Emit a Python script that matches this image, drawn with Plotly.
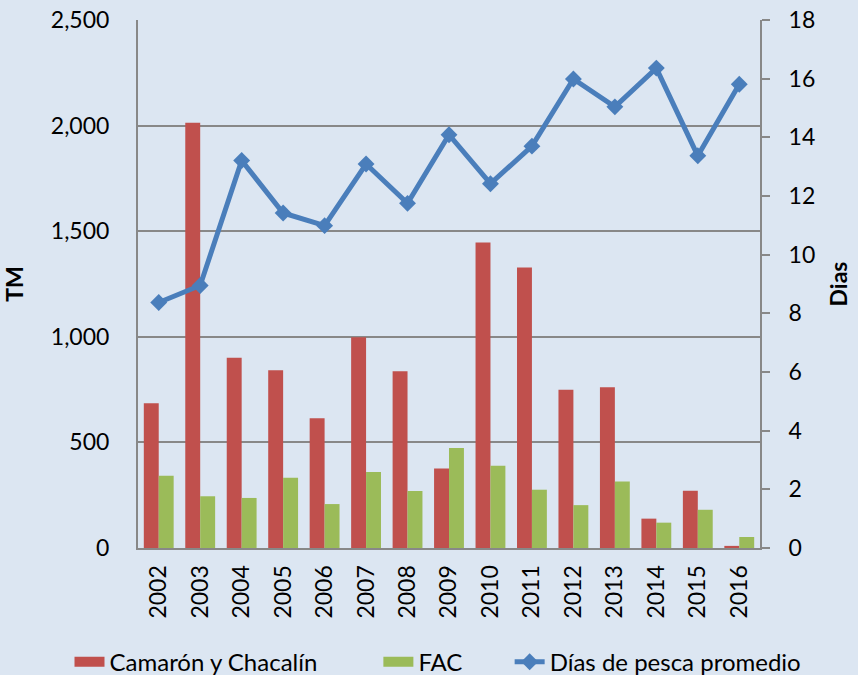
import plotly.graph_objects as go

years = ["2002", "2003", "2004", "2005", "2006", "2007", "2008", "2009",
         "2010", "2011", "2012", "2013", "2014", "2015", "2016"]
camaron = [685, 2013, 901, 842, 614, 998, 837, 376, 1446, 1328, 749, 761, 139, 271, 10]
fac = [342, 245, 237, 333, 208, 360, 270, 474, 389, 276, 203, 315, 120, 181, 52]
dias = [8.37, 8.95, 13.21, 11.42, 10.99, 13.09, 11.75, 14.09,
        12.42, 13.70, 15.99, 15.04, 16.36, 13.37, 15.81]

FONT = "Lato"
BG = "#DCE6F2"
GRID = "#888888"
RED = "#C0504D"
GREEN = "#9BBB59"
BLUE = "#4A7EBB"

fig = go.Figure()
fig.add_trace(go.Bar(x=years, y=camaron, name="Camarón y Chacalín", showlegend=False,
                     marker=dict(color=RED, line=dict(width=0))))
fig.add_trace(go.Bar(x=years, y=fac, name="FAC", showlegend=False,
                     marker=dict(color=GREEN, line=dict(width=0))))
fig.add_trace(go.Scatter(x=years, y=dias, name="Días de pesca promedio", yaxis="y2",
                         mode="lines+markers", legend="legend3",
                         line=dict(color=BLUE, width=5),
                         marker=dict(symbol="diamond", size=13, color=BLUE)))
# legend swatches (wide rectangles like the original)
fig.add_trace(go.Scatter(x=[years[0]], y=[None], mode="lines", name="Camarón y Chacalín",
                         line=dict(color=RED, width=17), legend="legend"))
fig.add_trace(go.Scatter(x=[years[0]], y=[None], mode="lines", name="FAC",
                         line=dict(color=GREEN, width=17), legend="legend2"))

leg_common = dict(orientation="h", xref="container", yref="container",
                  xanchor="left", y=0.019, yanchor="middle",
                  font=dict(size=24), bgcolor="rgba(0,0,0,0)")

fig.update_layout(
    width=858, height=675,
    paper_bgcolor=BG, plot_bgcolor=BG,
    margin=dict(l=138, r=98, t=20, b=127, autoexpand=False),
    font=dict(family=FONT, size=23, color="#000000"),
    barmode="group", bargap=0.28, bargroupgap=0,
    showlegend=True,
    legend=dict(x=0.081, **leg_common),
    legend2=dict(x=0.441, **leg_common),
    legend3=dict(x=0.594, **leg_common),
    xaxis=dict(showline=True, linecolor=GRID, linewidth=2, ticks="",
               tickangle=-90, tickfont=dict(size=23), automargin=False,
               range=[-0.5, len(years) - 0.5],
               ticklabelstandoff=6),
    yaxis=dict(range=[0, 2500], dtick=500, tickformat=",d", automargin=False,
               showgrid=True, gridcolor=GRID, gridwidth=1.5,
               showline=True, linecolor=GRID, linewidth=2, ticks="",
               zeroline=False, ticklabelstandoff=22,
               title=dict(text="<b>TM</b>", standoff=30, font=dict(size=23))),
    yaxis2=dict(range=[0, 18], dtick=2, overlaying="y", side="right", automargin=False,
                showgrid=False, showline=True, linecolor=GRID, linewidth=2,
                ticks="outside", ticklen=8, tickcolor=GRID, tickwidth=2,
                zeroline=False, ticklabelstandoff=14,
                title=dict(text="<b>Dias</b>", standoff=17, font=dict(size=23))),
)

fig.write_html("out.html", config={"displayModeBar": False},
               post_script="document.body.style.margin='0';document.body.style.overflow='hidden';")
